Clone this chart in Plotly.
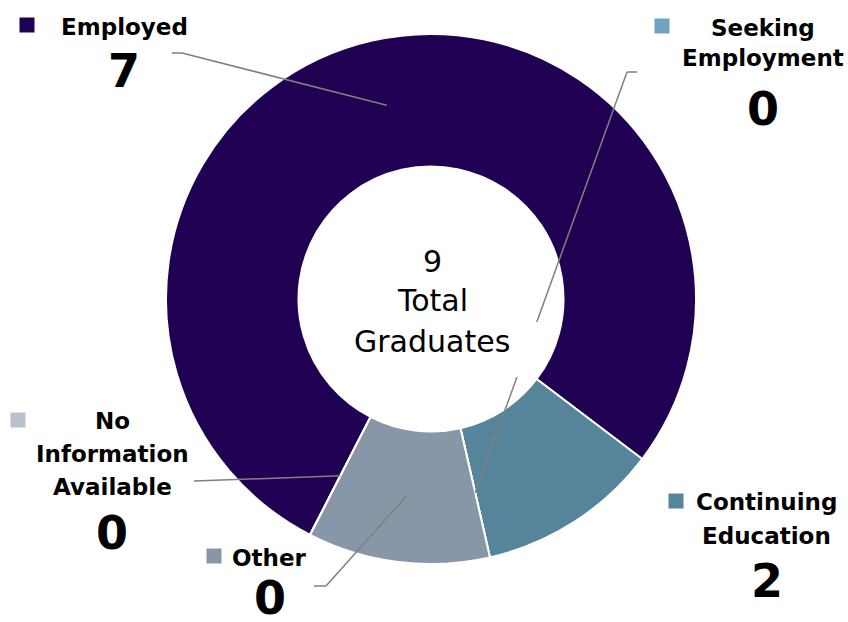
import plotly.graph_objects as go
import math

W, H = 848, 622

# ---- data ----
categories = ["Employed", "Continuing Education", "Seeking Employment", "Other", "No Information Available"]
slice_values = [7, 1, 0, 1, 0]          # relative slice sizes as drawn
shown_counts = [7, 2, 0, 0, 0]          # numbers printed in the labels
label_lines = {
    "Employed": ["Employed"],
    "Continuing Education": ["Continuing", "Education"],
    "Seeking Employment": ["Seeking", "Employment"],
    "Other": ["Other"],
    "No Information Available": ["No", "Information", "Available"],
}
total_graduates = 9
center_lines = [str(total_graduates), "Total", "Graduates"]

slice_colors = ["#1F0052", "#56849B", "#6FA4BF", "#8897A8", "#B9C1CC"]

# ---- geometry (pixels) ----
CX, CY, R = 431, 299, 265
HOLE = 0.5
START = 207.15  # clockwise degrees from 12 o'clock


def px(x):
    return x / W


def py(y):
    return 1 - y / H


fig = go.Figure()
fig.add_trace(go.Pie(
    labels=categories,
    values=slice_values,
    sort=False,
    direction="clockwise",
    rotation=START,
    hole=HOLE,
    textinfo="none",
    hoverinfo="label",
    showlegend=False,
    marker=dict(colors=slice_colors, line=dict(color="white", width=2)),
    domain=dict(x=[px(CX - R), px(CX + R)], y=[py(CY + R), py(CY - R)]),
))

# label layout: name block centre, marker square, number centre, line pitch
label_pos = {
    "Employed": dict(name=(124, 27), sq=(27, 25), num=(124, 71), pitch=30),
    "Seeking Employment": dict(name=(763, 28), sq=(662, 26), num=(763, 109), pitch=30),
    "Continuing Education": dict(name=(766, 502), sq=(676, 501), num=(767, 581), pitch=33.5),
    "Other": dict(name=(269, 558), sq=(214, 556), num=(270, 598), pitch=30),
    "No Information Available": dict(name=(112, 420.5), sq=(18, 420), num=(112, 533), pitch=33),
}
NAME_SIZE = 23
NUM_SIZE = 46
LABEL_FONT = "DejaVu Sans"

annotations = []
shapes = []
for cat, cnt, col in zip(categories, shown_counts, slice_colors):
    p = label_pos[cat]
    lines = label_lines[cat]
    nx, ny = p["name"]
    for i, ln in enumerate(lines):
        annotations.append(dict(
            x=px(nx), y=py(ny + i * p["pitch"]), xref="paper", yref="paper",
            text="<b>%s</b>" % ln, showarrow=False, xanchor="center", yanchor="middle",
            font=dict(family=LABEL_FONT, size=NAME_SIZE, color="#000000"),
        ))
    mx, my = p["num"]
    annotations.append(dict(
        x=px(mx), y=py(my), xref="paper", yref="paper",
        text="<b>%d</b>" % cnt, showarrow=False, xanchor="center", yanchor="middle",
        font=dict(family=LABEL_FONT, size=NUM_SIZE, color="#000000"),
    ))
    sx, sy = p["sq"]
    shapes.append(dict(
        type="rect", xref="paper", yref="paper",
        x0=px(sx - 7.5), x1=px(sx + 7.5), y0=py(sy + 7.5), y1=py(sy - 7.5),
        fillcolor=col, line=dict(width=0),
    ))

# leader lines: elbow start -> mid-ring of each slice (computed from slice angles)
tot = sum(slice_values)
mid_angle = {}
acc = START
for cat, v in zip(categories, slice_values):
    span = 360.0 * v / tot
    mid_angle[cat] = acc + span / 2
    acc += span
RMID = R * (1 + HOLE) / 2


def ring_point(cat):
    a = math.radians(mid_angle[cat])
    return CX + RMID * math.sin(a), CY - RMID * math.cos(a)


leaders = {
    "Employed": [(172, 53), (182, 53)],
    "Seeking Employment": [(637, 72), (627, 72)],
    "Other": [(314, 586), (326, 586)],
    "No Information Available": [(194, 481)],
}
gaps = {"Seeking Employment": (322, 377)}  # hidden behind centre text box

for cat, pts in leaders.items():
    end = ring_point(cat)
    path = pts + [end]
    segs = []
    for (x0, y0), (x1, y1) in zip(path[:-1], path[1:]):
        if cat in gaps and y1 != y0:
            g0, g1 = gaps[cat]

            def at(yv, x0=x0, y0=y0, x1=x1, y1=y1):
                t = (yv - y0) / (y1 - y0)
                return x0 + t * (x1 - x0), yv
            segs.append(((x0, y0), at(g0)))
            segs.append((at(g1), (x1, y1)))
        else:
            segs.append(((x0, y0), (x1, y1)))
    for (x0, y0), (x1, y1) in segs:
        shapes.append(dict(
            type="line", xref="paper", yref="paper",
            x0=px(x0), y0=py(y0), x1=px(x1), y1=py(y1),
            line=dict(color="#808080", width=1.5), layer="above",
        ))

# centre text
center_y = [261, 301, 342]
for txt, yy in zip(center_lines, center_y):
    annotations.append(dict(
        x=px(432), y=py(yy), xref="paper", yref="paper",
        text=txt, showarrow=False, xanchor="center", yanchor="middle",
        font=dict(family="DejaVu Sans", size=30, color="#000000"),
    ))

fig.update_layout(
    width=W, height=H,
    margin=dict(l=0, r=0, t=0, b=0),
    paper_bgcolor="white", plot_bgcolor="white",
    annotations=annotations, shapes=shapes,
)

fig.write_html(
    "out.html",
    config={"displayModeBar": False},
    post_script="document.body.style.margin='0';document.body.style.overflow='hidden';",
)
